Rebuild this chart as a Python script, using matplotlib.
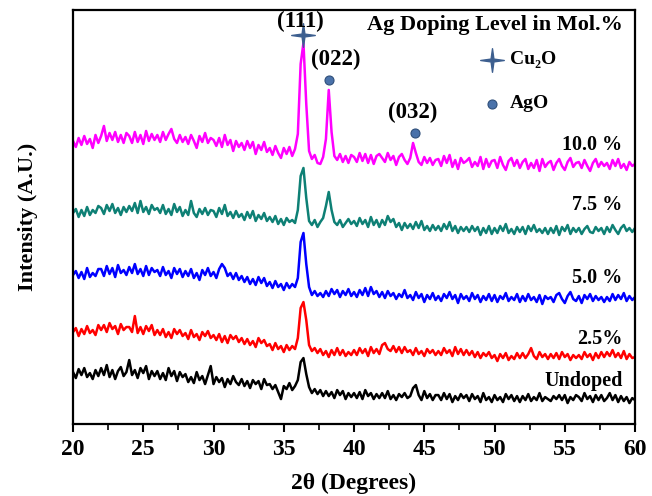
import numpy as np
import matplotlib
matplotlib.use("Agg")
import matplotlib.pyplot as plt
from matplotlib.ticker import MultipleLocator
from matplotlib.path import Path

plt.rcParams['font.family'] = ['Liberation Serif', 'DejaVu Serif']
plt.rcParams['font.weight'] = 'bold'

# 2-theta grid (degrees), 0.2 deg step from 20 to 60
two_theta_start, two_theta_step, n_points = 20.0, 0.2, 201

undoped = [
    52, 46, 55, 49, 56, 47, 51, 45, 54, 48,
    56, 49, 59, 47, 54, 45, 53, 57, 48, 52,
    64, 49, 54, 46, 56, 51, 58, 45, 53, 48,
    53, 45, 51, 44, 56, 48, 53, 43, 52, 47,
    50, 42, 47, 41, 52, 44, 48, 40, 49, 58,
    40, 47, 42, 46, 37, 45, 40, 48, 42, 39,
    45, 38, 43, 36, 44, 40, 43, 35, 45, 39,
    40, 35, 39, 32, 25, 38, 35, 41, 34, 38,
    44, 62, 66, 50, 37, 31, 35, 30, 34, 28,
    33, 28, 32, 26, 34, 29, 33, 25, 31, 27,
    31, 26, 32, 25, 34, 28, 31, 25, 30, 26,
    31, 26, 33, 25, 29, 24, 30, 27, 31, 26,
    28, 36, 39, 29, 24, 33, 26, 30, 24, 29,
    29, 24, 31, 25, 30, 22, 28, 24, 30, 26,
    29, 23, 30, 25, 28, 22, 31, 24, 27, 22,
    29, 24, 27, 22, 30, 25, 29, 23, 28, 22,
    28, 24, 30, 23, 27, 24, 31, 23, 27, 25,
    23, 28, 25, 29, 24, 29, 21, 27, 24, 29,
    27, 23, 31, 25, 28, 22, 29, 24, 29, 23,
    26, 31, 24, 29, 22, 28, 23, 27, 21, 26,
    24,
]

doped_2_5 = [
    92, 96, 88, 95, 90, 98, 91, 94, 89, 99,
    94, 99, 92, 101, 95, 98, 90, 100, 94, 97,
    97, 92, 108, 91, 97, 90, 98, 93, 99, 89,
    94, 89, 95, 87, 92, 86, 95, 90, 94, 88,
    91, 85, 94, 87, 90, 84, 92, 88, 93, 86,
    89, 84, 90, 82, 88, 81, 89, 85, 88, 82,
    86, 80, 85, 79, 83, 77, 86, 81, 84, 78,
    80, 74, 81, 75, 78, 72, 79, 74, 78, 75,
    86, 116, 122, 104, 79, 73, 76, 71, 75, 69,
    73, 67, 74, 69, 76, 69, 74, 68, 72, 69,
    74, 69, 76, 71, 75, 68, 77, 71, 75, 70,
    79, 81, 75, 73, 78, 72, 77, 71, 77, 72,
    74, 69, 76, 70, 73, 68, 75, 71, 74, 69,
    73, 69, 76, 71, 74, 68, 77, 70, 75, 69,
    74, 69, 73, 67, 72, 66, 71, 68, 72, 66,
    69, 63, 70, 66, 71, 64, 68, 65, 71, 66,
    71, 66, 70, 76, 68, 65, 72, 67, 70, 65,
    70, 66, 71, 65, 72, 67, 70, 64, 69, 66,
    69, 65, 72, 67, 70, 64, 71, 66, 72, 67,
    72, 68, 74, 67, 71, 66, 73, 65, 70, 66,
    67,
]

doped_5_0 = [
    149, 153, 146, 152, 145, 156, 147, 151, 148, 155,
    155, 148, 158, 150, 156, 147, 159, 151, 154, 149,
    157, 151, 160, 150, 155, 148, 158, 149, 156, 152,
    154, 148, 157, 149, 153, 146, 156, 150, 155, 147,
    153, 148, 155, 146, 151, 144, 154, 149, 156, 148,
    152, 146, 155, 160, 156, 148, 151, 145, 151, 144,
    148, 142, 147, 140, 145, 139, 147, 141, 146, 138,
    142, 136, 143, 137, 140, 134, 141, 136, 140, 137,
    146, 182, 191, 160, 137, 129, 133, 128, 131, 127,
    133, 128, 135, 130, 134, 127, 133, 129, 135, 128,
    132, 127, 134, 129, 136, 128, 137, 130, 133, 127,
    132, 126, 133, 128, 131, 125, 130, 127, 134, 126,
    129, 124, 132, 126, 130, 122, 129, 125, 131, 124,
    128, 123, 130, 126, 132, 125, 129, 121, 130, 125,
    128, 123, 131, 125, 129, 122, 128, 124, 130, 123,
    129, 122, 128, 125, 131, 123, 127, 124, 130, 122,
    128, 123, 130, 124, 127, 122, 129, 120, 128, 125,
    127, 122, 129, 131, 125, 121, 128, 132, 125, 123,
    128, 121, 129, 125, 130, 123, 128, 124, 127, 122,
    127, 123, 130, 124, 129, 125, 131, 123, 128, 124,
    127,
]

doped_7_5 = [
    211, 215, 207, 214, 208, 217, 209, 214, 211, 218,
    216, 210, 219, 213, 220, 211, 216, 209, 217, 212,
    218, 213, 221, 211, 223, 212, 217, 210, 219, 214,
    216, 211, 219, 210, 215, 209, 220, 212, 217, 208,
    214, 209, 223, 211, 207, 215, 210, 216, 209, 214,
    213, 207, 216, 210, 219, 208, 212, 206, 213, 207,
    210, 204, 212, 206, 213, 203, 209, 205, 211, 203,
    207, 202, 208, 200, 205, 199, 206, 202, 204, 201,
    214, 248, 256, 226, 203, 199, 204, 197, 202, 206,
    218, 232, 214, 202, 199, 204, 197, 201, 205, 200,
    203, 198, 206, 200, 204, 197, 207, 199, 204, 197,
    204, 199, 208, 202, 205, 197, 201, 194, 201, 196,
    200, 195, 202, 196, 203, 194, 198, 193, 199, 194,
    198, 193, 200, 195, 202, 193, 198, 191, 197, 193,
    197, 192, 198, 193, 197, 189, 196, 191, 198, 190,
    196, 191, 198, 193, 200, 191, 195, 190, 197, 192,
    197, 190, 198, 193, 199, 192, 195, 191, 196, 190,
    196, 191, 198, 189, 197, 193, 199, 190, 196, 192,
    196, 190, 195, 198, 192, 191, 197, 193, 196, 190,
    197, 192, 199, 194, 190, 196, 199, 193, 196, 192,
    196,
]

doped_10_0 = [
    283, 277, 286, 279, 288, 280, 285, 276, 289, 281,
    288, 298, 283, 291, 284, 292, 282, 289, 281, 291,
    288, 281, 292, 282, 289, 280, 293, 283, 290, 284,
    289, 282, 292, 284, 290, 295, 285, 281, 289, 282,
    287, 280, 289, 283, 276, 288, 282, 291, 281, 286,
    284, 278, 286, 277, 289, 279, 284, 273, 283, 277,
    281, 274, 283, 276, 282, 270, 279, 274, 282, 272,
    276, 269, 278, 271, 266, 276, 270, 277, 268, 275,
    290, 360, 381, 320, 273, 265, 269, 261, 260, 267,
    285, 334, 292, 268, 264, 270, 262, 268, 261, 269,
    267, 262, 271, 263, 270, 261, 269, 260, 268, 270,
    266, 262, 271, 264, 268, 259, 267, 270, 264, 260,
    266, 281, 271, 262, 259, 267, 261, 266, 259, 264,
    265, 258, 268, 261, 269, 257, 264, 255, 266, 261,
    263, 266, 257, 262, 258, 267, 255, 265, 257, 263,
    264, 256, 267, 259, 254, 263, 266, 258, 264, 256,
    262, 265, 255, 261, 256, 264, 253, 265, 257, 261,
    263, 254, 261, 265, 258, 254, 262, 266, 257, 261,
    262, 256, 264, 258, 253, 261, 265, 257, 262, 258,
    261, 255, 264, 258, 265, 256, 260, 254, 262, 258,
    260,
]

series_labels = ["Undoped", "2.5%", "5.0 %", "7.5 %", "10.0 %"]
series_colors = ["#000000", "#ff0000", "#0000ff", "#0e8075", "#ff00ff"]
label_heights = [43, 85, 146, 219, 279]

# Phase markers: (2theta, intensity) and Miller index labels
cu2o_peak = (36.35, 389)
ago_peaks = [(38.2, 344), (44.35, 291)]
hkl_labels = ["(111)", "(022)", "(032)"]
hkl_positions = [(36.15, 402), (38.7, 364), (44.2, 312)]

two_theta = two_theta_start + two_theta_step * np.arange(n_points)
patterns = [undoped, doped_2_5, doped_5_0, doped_7_5, doped_10_0]

fig = plt.figure(figsize=(6.52, 4.96), dpi=100)
ax = fig.add_axes([0.112, 0.145, 0.862, 0.835])

for y, c in zip(patterns, series_colors):
    ax.plot(two_theta, y, color=c, lw=1.8)

for lab, h in zip(series_labels, label_heights):
    ax.text(59.1, h, lab, ha="right", va="center", fontsize=14.5, fontweight="bold")

# thin four-pointed star marker
s = 0.12
star4 = Path([(0, 1), (s, s), (1, 0), (s, -s), (0, -1), (-s, -s), (-1, 0), (-s, s), (0, 1)],
             [Path.MOVETO] + [Path.LINETO] * 7 + [Path.CLOSEPOLY])
marker_color = "#3d5f8f"

ax.plot(*cu2o_peak, marker=star4, ms=17, color=marker_color, ls="none")
for p in ago_peaks:
    ax.plot(*p, marker="o", ms=6.5, color="#4a72aa", mec="#2f4f7a", mew=0.8, ls="none")

for txt, (xx, yy) in zip(hkl_labels, hkl_positions):
    ax.text(xx, yy, txt, ha="center", va="center", fontsize=16.5, fontweight="bold")

ax.text(59.15, 399, "Ag Doping Level in Mol.%", ha="right", va="center",
        fontsize=16, fontweight="bold")

# phase key
ax.plot(49.8, 364, marker=star4, ms=17, color=marker_color, ls="none")
ax.text(51.1, 364, "Cu₂O", ha="left", va="center", fontsize=14, fontweight="bold")
ax.plot(49.8, 320, marker="o", ms=6.5, color="#4a72aa", mec="#2f4f7a", mew=0.8, ls="none")
ax.text(51.1, 320, "AgO", ha="left", va="center", fontsize=14, fontweight="bold")

ax.set_xlim(20, 60)
ax.set_ylim(0, 414)
ax.xaxis.set_major_locator(MultipleLocator(5))
ax.xaxis.set_minor_locator(MultipleLocator(2.5))
ax.tick_params(axis="x", which="major", direction="out", length=6, width=1.5,
               labelsize=17, pad=5)
ax.tick_params(axis="x", which="minor", direction="out", length=4, width=1.2)
ax.tick_params(axis="y", left=False, labelleft=False)
for lbl in ax.get_xticklabels():
    lbl.set_fontweight("bold")
for sp in ax.spines.values():
    sp.set_linewidth(1.6)

ax.set_xlabel("2θ (Degrees)", fontsize=17, fontweight="bold", labelpad=9)
ax.set_ylabel("Intensity (A.U.)", fontsize=16, fontweight="bold", labelpad=25)

fig.savefig("out.png", dpi=100)
